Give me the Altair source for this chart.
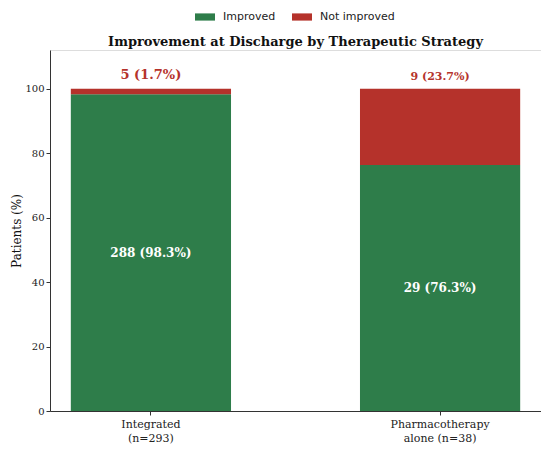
import altair as alt
import pandas as pd

groups = ["Integrated|(n=293)", "Pharmacotherapy|alone (n=38)"]
outcomes = ["Improved", "Not improved"]
improved_n = [288, 29]
not_improved_n = [5, 9]
improved_pct = [98.3, 76.3]
not_improved_pct = [1.7, 23.7]
colors = ["#2e7d4a", "#b5322b"]
y_ticks = [0, 20, 40, 60, 80, 100]

rows = []
for g, n1, n2, p1, p2 in zip(groups, improved_n, not_improved_n, improved_pct, not_improved_pct):
    rows.append(dict(group=g, outcome=outcomes[0], n=n1, pct=p1, ord=0, label=f"{n1} ({p1}%)"))
    rows.append(dict(group=g, outcome=outcomes[1], n=n2, pct=p2, ord=1, label=f"{n2} ({p2}%)"))
df = pd.DataFrame(rows)

serif = "DejaVu Serif"
sans = "DejaVu Sans"
rect_path = "M-1,-0.36L1,-0.36L1,0.36L-1,0.36Z"

x_enc = alt.X(
    "group:N",
    sort=groups,
    scale=alt.Scale(paddingInner=0.446, paddingOuter=0.072),
    axis=alt.Axis(
        title=None,
        labelAngle=0,
        labelExpr="split(datum.label, '|')",
        labelFont=serif,
        labelFontSize=11,
        labelLineHeight=14,
        labelColor="#222222",
        labelPadding=3,
        tickSize=4,
        tickColor="#333333",
        domainColor="#333333",
        grid=False,
    ),
)

base = alt.Chart(df)

bars = base.mark_bar().encode(
    x=x_enc,
    y=alt.Y(
        "pct:Q",
        stack="zero",
        scale=alt.Scale(domain=[0, 112], nice=False, zero=True),
        axis=alt.Axis(
            values=y_ticks,
            title="Patients (%)",
            titleFont=serif,
            titleFontSize=12,
            titleFontWeight="normal",
            titleColor="#111111",
            titlePadding=1,
            labelFont=serif,
            labelFontSize=10,
            labelColor="#222222",
            tickSize=4,
            tickColor="#333333",
            domainColor="#333333",
            grid=False,
        ),
    ),
    color=alt.Color(
        "outcome:N",
        scale=alt.Scale(domain=outcomes, range=colors),
        legend=alt.Legend(
            orient="none",
            legendX=145,
            legendY=-43,
            direction="horizontal",
            title=None,
            symbolType=rect_path,
            symbolSize=400,
            symbolStrokeWidth=0,
            symbolOpacity=1,
            labelFont=sans,
            labelFontSize=11,
            labelColor="#222222",
            columnPadding=16,
            labelOffset=8,
        ),
    ),
    order=alt.Order("ord:Q"),
)

inner_text = base.transform_filter(
    alt.datum.outcome == outcomes[0]
).transform_calculate(
    mid="datum.pct / 2"
).mark_text(
    font=serif, fontSize=12, fontWeight="bold", color="white", baseline="middle"
).encode(
    x=alt.X("group:N", sort=groups),
    y=alt.Y("mid:Q"),
    text="label:N",
)

top_text = base.transform_joinaggregate(
    total="sum(pct)", groupby=["group"]
).transform_filter(
    alt.datum.outcome == outcomes[1]
).mark_text(
    font=serif, fontWeight="bold", color=colors[1], baseline="bottom", dy=-7
).encode(
    x=alt.X("group:N", sort=groups),
    y=alt.Y("total:Q"),
    text="label:N",
    size=alt.condition(alt.datum.group == groups[0], alt.value(13), alt.value(11)),
)

chart = alt.layer(bars, inner_text, top_text).properties(
    width=491,
    height=361,
    title=alt.TitleParams(
        "Improvement at Discharge by Therapeutic Strategy",
        font=serif,
        fontSize=13,
        fontWeight="bold",
        color="#111111",
        anchor="middle",
        frame="group",
        offset=6,
        dy=48,
    ),
    autosize=alt.AutoSizeParams(type="none"),
    padding={"left": 42, "top": 42, "right": 0, "bottom": 34},
).configure_view(stroke=None).configure(background="white")

chart.save("out.html", embed_options={"renderer": "svg", "actions": False})
